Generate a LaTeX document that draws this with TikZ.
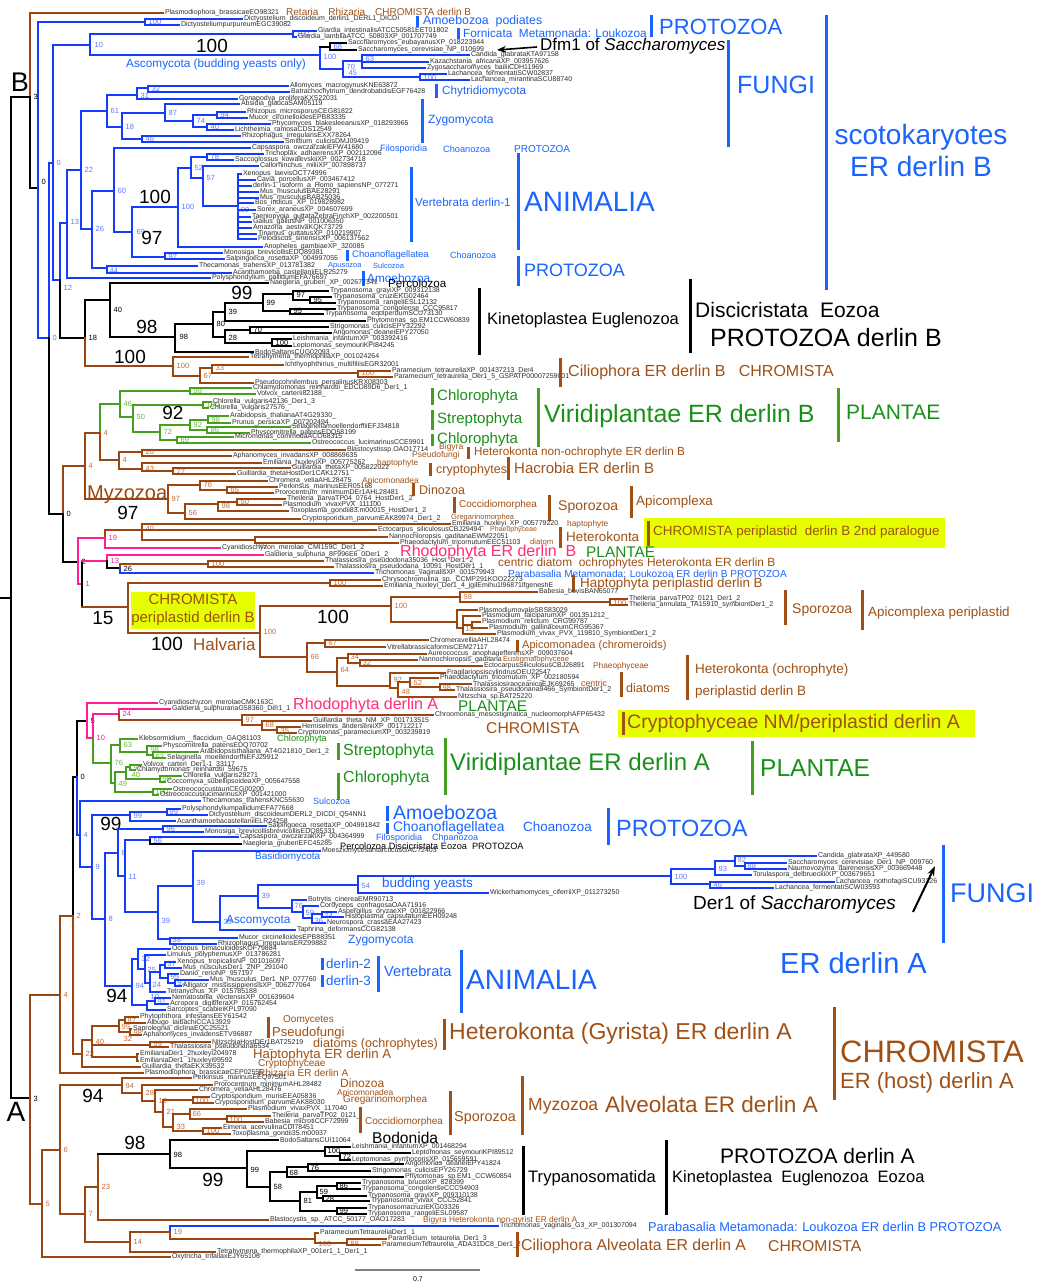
\documentclass[tikz,border=0pt]{standalone}
\usepackage{fontspec}
\setmainfont{Liberation Sans}
\usetikzlibrary{arrows.meta}
\definecolor{tb}{RGB}{20,60,255}
\definecolor{tbl}{RGB}{95,120,255}
\definecolor{lb}{RGB}{25,100,255}
\definecolor{tr}{RGB}{155,70,15}
\definecolor{trl}{RGB}{190,110,65}
\definecolor{lr}{RGB}{160,80,20}
\definecolor{tg}{RGB}{70,160,30}
\definecolor{tgl}{RGB}{105,185,65}
\definecolor{lg}{RGB}{25,145,25}
\definecolor{tp}{RGB}{255,30,150}
\definecolor{lp}{RGB}{255,45,120}
\definecolor{lfg}{RGB}{45,45,45}
\definecolor{yb}{RGB}{230,255,0}
\newcommand\Nd[6]{\draw[#1] (#2,-#4) -- (#3,-#4); \draw[#1] (#3,-#5) -- (#3,-#6);}
\newcommand\Lf[5]{\draw[#1] (#2,-#4) -- (#3,-#4) node[lft]{#5};}
\newcommand\Bs[4]{\node[bsn,text=#1] at (#2,-#3) {#4};}
\newcommand\Tx[5]{\node[anchor=west,inner sep=0pt,text=#1,font=\fontsize{#2}{#2}\selectfont] at (#3,-#4) {#5};}
\newcommand\Br[4]{\draw[draw=#1,line width=3pt] (#2,-#3) -- (#2,-#4);}
\newcommand\Bg[3]{\node[inner sep=0pt,font=\fontsize{19}{19}\selectfont] at (#1,-#2) {#3};}
\begin{document}
\begin{tikzpicture}[x=1pt,y=1pt,
 lB/.style={draw=tb,line width=2pt,line cap=rect},
 lR/.style={draw=tr,line width=2pt,line cap=rect},
 lG/.style={draw=tg,line width=2pt,line cap=rect},
 lP/.style={draw=tp,line width=2pt,line cap=rect},
 lK/.style={draw=black,line width=2pt,line cap=rect},
 lft/.style={anchor=west,inner sep=1pt,font=\fontsize{7}{8}\selectfont,text=lfg},
 bsn/.style={anchor=west,inner sep=0.5pt,font=\fontsize{7.5}{8}\selectfont}]
\fill[white] (0,0) rectangle (1037,-1283);
\useasboundingbox (0,0) rectangle (1037,-1283);
% ---------------- root -----------------
\draw[lK] (0,-598) -- (11,-598);
\draw[lK] (11,-97) -- (11,-1098);
\node[inner sep=0pt,font=\fontsize{27}{27}\selectfont] at (20,-82) {B};
\node[inner sep=0pt,font=\fontsize{28}{28}\selectfont] at (16,-1112) {A};
% ================= B half =================
\draw[lK] (11,-97) -- (30,-97); \draw[lR] (30,-13) -- (30,-97); \draw[lK] (30,-97) -- (30,-188);
\Bs{black}{33}{97}{3}
\Lf{lR}{30}{163}{13}{Plasmodiophora\_brassicaeEO98321}
\Tx{lr}{10}{286}{12}{Retaria\quad Rhizaria\quad CHROMISTA derlin B}
\draw[lK] (30,-188) -- (38,-188); \draw[lB] (38,-22) -- (38,-338); \Bs{black}{41}{182}{0}
\Nd{lB}{38}{145}{22}{19}{25} \Bs{tbl}{148}{22}{100}
\Lf{lB}{145}{242}{19}{Dictyostelium\_discoideum\_derlin1\_DERL1\_DICDI}
\Lf{lB}{145}{179}{25}{DictyosteliumpurpureumEGC39082}
\Br{lb}{417}{16}{27} \Tx{lb}{12.3}{423}{21}{Amoebozoa\ \ podiates}
\draw[lB] (38,-338) -- (49,-338); \draw[lB] (49,-163) -- (49,-338); \draw[lK] (49,-338) -- (49,-514); \Bs{tbl}{52}{338}{0}
\Nd{lB}{49}{53}{163}{45}{280} \Bs{tbl}{56}{163}{0}
\Nd{lB}{53}{90}{45}{34}{55} \Bs{tbl}{94}{45}{10}
\Nd{lB}{90}{293}{34}{31}{37} \Bs{tbl}{296}{34}{100}
\Lf{lB}{293}{316}{31}{Giardia\_intestinalisATCC50581EET01802}
\Lf{lB}{293}{296}{37}{Giardia\_lambliaATCC\_50803XP\_001707749}
\Br{lb}{458}{28}{39} \Tx{lb}{11.8}{463}{33}{Fornicata\ \ Metamonada: Loukozoa}
% budding yeasts B
\Nd{lB}{90}{320}{55}{47}{69} \Bs{tbl}{323}{57}{100}
\Bg{212}{46}{100}
\Tx{lb}{11.8}{126}{64}{Ascomycota (budding yeasts only)}
\Nd{lK}{320}{330}{47}{43}{50} \Bs{tbl}{333}{47}{68}
\Lf{lK}{330}{346}{43}{Saccharomyces\_eubayanusXP\_018223944}
\Lf{lK}{330}{356}{50}{Saccharomyces\_cerevisiae\_NP\_010699}
\Nd{lB}{320}{343}{69}{61}{77} \Bs{tbl}{346}{67}{70}
\Nd{lB}{343}{362}{61}{55}{68} \Bs{tbl}{365}{59}{63}
\Lf{lB}{362}{469}{55}{Candida\_glabrataKTA97158}
\Lf{lB}{362}{428}{62}{Kazachstania\_africanaXP\_003957626}
\Lf{lB}{362}{425}{68}{Zygosaccharomyces\_bailiiCDH11969}
\Nd{lB}{343}{420}{77}{74}{80} \Bs{tbl}{348}{73}{45} \Bs{tbl}{423}{78}{100}
\Lf{lB}{420}{446}{74}{Lachancea\_fermentatiSCW02837}
\Lf{lB}{420}{469}{80}{Lachancea\_mirantinaSCU88740}
\draw[-{Stealth[length=9pt,width=7pt]},line width=1.6pt] (537,-47) -- (497,-50);
\Tx{black}{17}{540}{46}{Dfm1 of \textit{Saccharomyces}}
\Br{lb}{651}{15}{37} \Tx{lb}{22}{659}{27}{PROTOZOA}
\Br{lb}{728}{40}{147} \Tx{lb}{25}{737}{85}{FUNGI}
\Br{lb}{826}{15}{290}
\node[text=lb,inner sep=0pt,font=\fontsize{28}{32}\selectfont,align=center] at (921,-150) {scotokaryotes\\ER derlin B};
% fungi B
\Nd{lB}{67}{81}{170}{111}{229} \Bs{tbl}{84}{170}{22}
\Nd{lB}{81}{107}{111}{95}{127} \Bs{tbl}{110}{111}{61}
\Nd{lB}{107}{137}{95}{88}{99} \Bs{tbl}{140}{96}{31}
\Nd{lB}{137}{148}{88}{86}{92} \Bs{tbl}{151}{89}{32}
\Lf{lB}{148}{288}{86}{Allomyces\_macrogynusKNE63872}
\Lf{lB}{148}{289}{92}{Batrachochytrium\_dendrobatidisEGF76428}
\Lf{lB}{137}{237}{99}{Gonapodya\_proliferaKXS22031}
\Nd{lB}{107}{122}{127}{113}{139} \Bs{tbl}{125}{127}{18}
\Nd{lB}{122}{165}{113}{104}{121} \Bs{tbl}{168}{113}{87}
\Lf{lB}{165}{239}{104}{Absidia\_glaucaSAM05119}
\Nd{lB}{165}{193}{121}{115}{127} \Bs{tbl}{196}{121}{74}
\Nd{lB}{193}{217}{115}{112}{118} \Bs{tbl}{220}{115}{94}
\Lf{lB}{217}{245}{112}{Rhizopus\_microsporusCEG81822}
\Lf{lB}{217}{247}{118}{Mucor\_circinelloidesEPB83335}
\Nd{lB}{193}{207}{127}{124}{130} \Bs{tbl}{210}{127}{40}
\Lf{lB}{207}{270}{124}{Phycomyces\_blakesleeanusXP\_018293965}
\Lf{lB}{207}{233}{130}{Lichtheimia\_ramosaCDS12549}
\Nd{lB}{122}{142}{139}{136}{142} \Bs{tbl}{145}{139}{46}
\Lf{lB}{142}{240}{136}{Rhizophagus\_irregularisEXX78264}
\Lf{lB}{142}{283}{142}{Smittium\_culicisDMJ09419}
\Br{lb}{436}{84}{98} \Tx{lb}{11.7}{442}{91}{Chytridiomycota}
\Br{lb}{422}{99}{143} \Tx{lb}{12}{428}{121}{Zygomycota}
% spine to animals
\Nd{lB}{53}{60}{280}{223}{280} \draw[lK] (60,-280) -- (60,-338); \Bs{tbl}{63}{288}{12}
\Nd{lB}{60}{67}{223}{170}{278} \Bs{tbl}{70}{222}{13}
\Lf{lB}{67}{210}{278}{Polysphondylium\_pallidumEFA76697}
\Nd{lB}{81}{92}{229}{191}{268} \Bs{tbl}{95}{229}{26}
\Nd{lB}{92}{114}{191}{148}{232} \Bs{tbl}{117}{191}{60}
\Lf{lB}{114}{250}{148}{Capsaspora\_owczarzakiEFW41680}
\Tx{lb}{9.2}{380}{149}{Filosporidia} \Tx{lb}{9.2}{443}{149}{Choanozoa} \Tx{lb}{10}{514}{149}{PROTOZOA}
\Nd{lB}{114}{132}{232}{207}{257} \Bs{tbl}{136}{232}{69}
\Nd{lB}{132}{178}{207}{168}{247} \Bs{tbl}{181}{207}{100} \Bg{155}{197}{100}
\Nd{lB}{178}{191}{168}{157}{178} \Bs{tbl}{194}{168}{52}
\Nd{lB}{191}{207}{157}{154}{160} \Bs{tbl}{210}{157}{78}
\Lf{lB}{207}{263}{154}{Trichoplax\_adhaerensXP\_002112096}
\Lf{lB}{207}{233}{160}{Saccoglossus\_kowalevskiiXP\_002734718}
\Nd{lB}{191}{203}{178}{166}{206} \Bs{tbl}{206}{178}{57}
\Lf{lB}{203}{258}{166}{Callorhinchus\_miliiXP\_007898737}
\Nd{lB}{203}{238}{206}{174}{239} \Bs{tbl}{236}{210}{100}
\Lf{lB}{238}{241}{174}{Xenopus\_laevisOCT74996}
\Lf{lB}{238}{255}{180}{Cavia\_porcellusXP\_003467412}
\Lf{lB}{238}{251}{186}{derlin-1\_isoform\_a\_Homo\_sapiensNP\_077271}
\Lf{lB}{238}{258}{192}{Mus\_musculusBAE28291}
\Lf{lB}{238}{258}{198}{Mus\_musculusBAB25036}
\Lf{lB}{238}{253}{203}{Bos\_indicus\_XP\_019828982}
\Lf{lB}{238}{255}{210}{Sorex\_araneusXP\_004607699}
\Lf{lB}{238}{250}{217}{Taeniopygia\_guttataZebraFinchXP\_002200501}
\Lf{lB}{238}{251}{222}{Gallus\_gallusNP\_001006350}
\Lf{lB}{238}{251}{228}{Amazona\_aestivaKQK73729}
\Lf{lB}{238}{256}{234}{Tinamus\_guttatusXP\_010219907}
\Lf{lB}{238}{256}{239}{Pelodiscus\_sinensisXP\_006137562}
\Lf{lB}{178}{262}{247}{Anopheles\_gambiaeXP\_320085}
\Br{lb}{411}{167}{242} \Tx{lb}{11.6}{415}{202}{Vertebrata derlin-1}
\Br{lb}{518}{153}{250} \Tx{lb}{28}{524}{202}{ANIMALIA}
\Nd{lB}{132}{165}{257}{253}{259} \Bs{tbl}{168}{257}{97} \Bg{152}{238}{97}
\Lf{lB}{165}{222}{253}{Monosiga\_brevicollisEDQ89381}
\Lf{lB}{165}{224}{259}{Salpingoeca\_rosettaXP\_004997055}
\Nd{lB}{92}{107}{268}{266}{273} \Bs{tbl}{109}{271}{44}
\Lf{lB}{107}{197}{266}{Thecamonas\_trahensXP\_013781382}
\Lf{lB}{107}{231}{273}{Acanthamoeba\_castellaniiELR25279}
\Br{lb}{347}{250}{261} \Tx{lb}{9.5}{352}{255}{Choanoflagellatea} \Tx{lb}{9}{450}{255}{Choanozoa}
\Tx{lb}{7.5}{328}{266}{Apusozoa} \Tx{lb}{7.5}{373}{266}{Sulcozoa}
\Br{lb}{363}{271}{286} \Tx{lb}{11.8}{367}{278}{Amoebozoa}
\Br{lb}{518}{256}{286} \Tx{lb}{18}{524}{270}{PROTOZOA}
% Discicristata B
\draw[lK] (60,-338) -- (85,-338); \draw[lK] (85,-300) -- (85,-338); \draw[lR] (85,-338) -- (85,-366); \Bs{black}{88}{338}{18}
\Nd{lK}{85}{110}{300}{283}{337} \Bs{black}{113}{310}{40}
\Lf{lK}{110}{268}{283}{Naegleria\_gruberi\_XP\_002677341} \Tx{black}{11.6}{388}{283}{Percolozoa}
\Nd{lK}{110}{175}{337}{324}{352} \Bs{black}{179}{337}{98} \Bg{147}{327}{98}
\Lf{lK}{175}{253}{352}{BodoSaltansCUG02093}
\Nd{lK}{175}{213}{324}{312}{337} \Bs{black}{216}{324}{80}
\Nd{lK}{213}{225}{312}{303}{321} \Bs{black}{228}{312}{39}
\Nd{lK}{225}{263}{303}{294}{311} \Bs{black}{266}{303}{99} \Bg{242}{293}{99}
\Nd{lK}{263}{293}{294}{291}{300} \Bs{black}{296}{295}{97}
\Lf{lK}{293}{328}{291}{Trypanosoma\_grayiXP\_009312138}
\Nd{lK}{293}{310}{300}{297}{303} \Bs{black}{313}{300}{95}
\Lf{lK}{310}{331}{297}{Trypanosoma\_cruziEKG02464}
\Lf{lK}{310}{335}{303}{Trypanosoma\_rangeliESL12132}
\Nd{lK}{263}{290}{311}{309}{314} \Bs{black}{293}{311}{95}
\Lf{lK}{290}{335}{309}{Trypanosoma\_congolense\_CCC95817}
\Lf{lK}{290}{323}{314}{Trypanosoma\_equiperdumSCU73130}
\Lf{lK}{225}{365}{321}{Phytomonas\_sp.EM1CCW60839}
\Nd{lK}{213}{225}{337}{330}{343} \Bs{black}{228}{338}{28}
\Nd{lK}{225}{250}{330}{327}{333} \Bs{black}{253}{330}{70}
\Lf{lK}{250}{328}{327}{Strigomonas\_culicisEPY32292}
\Lf{lK}{250}{331}{333}{Angomonas\_deaneiEPY27050}
\Nd{lK}{225}{272}{343}{339}{346} \Bs{black}{275}{343}{100}
\Lf{lK}{272}{291}{339}{Leishmania\_infantumXP\_003392416}
\Lf{lK}{272}{291}{346}{Leptomonas\_seymouriKPI84245}
\Br{black}{479}{288}{355} \Tx{black}{16.5}{487}{320}{Kinetoplastea Euglenozoa}
\Br{black}{690}{279}{353} \Tx{black}{21}{695}{310}{Discicristata\ \ Eozoa} \Tx{black}{25}{710}{338}{PROTOZOA derlin B}
% Ciliophora B
\Nd{lR}{85}{173}{366}{357}{376} \Bs{trl}{176}{366}{100} \Bg{130}{357}{100}
\Lf{lR}{173}{248}{357}{Tetrahymena\_thermophilaXP\_001024264}
\Nd{lR}{173}{200}{376}{368}{383} \Bs{trl}{203}{376}{67}
\Nd{lR}{200}{212}{368}{365}{373} \Bs{trl}{215}{368}{33}
\Lf{lR}{212}{283}{365}{Ichthyophthirius\_multifiliisEGR32001}
\Nd{lR}{212}{358}{373}{371}{376} \Bs{trl}{361}{373}{100}
\Lf{lR}{358}{390}{371}{Paramecium\_tetraureliaXP\_001437213\_Der4}
\Lf{lR}{358}{392}{377}{Paramecium\_tetraurelia\_Der1\_5\_GSPATP00007259001}
\Lf{lR}{200}{253}{383}{Pseudocohnilembus\_persalinusKRX08303}
\Br{lr}{560}{358}{387} \Tx{lr}{16}{568}{372}{Ciliophora ER derlin B\ \ \ CHROMISTA}
% S node
\draw[lK] (49,-514) -- (63,-514); \draw[lR] (63,-466) -- (63,-514); \draw[lK] (63,-514) -- (63,-562); \Bs{black}{66}{514}{0}
\Nd{lR}{63}{85}{466}{433}{499} \Bs{trl}{88}{466}{4}
\draw[lR] (85,-433) -- (100,-433); \draw[lG] (100,-404) -- (100,-433); \draw[lR] (100,-433) -- (100,-460); \Bs{trl}{103}{433}{4}
% Viridiplantae B
\Nd{lG}{100}{120}{404}{391}{417} \Bs{tgl}{123}{404}{46}
\Nd{lG}{120}{190}{391}{388}{394} \Bs{tgl}{193}{391}{98}
\Lf{lG}{190}{251}{388}{Chlamydomonas\_reinhardtii\_EDCD89D6\_Der1\_1}
\Lf{lG}{190}{255}{394}{Volvox\_carterii82188\_}
\Nd{lG}{120}{133}{417}{405}{432} \Bs{tgl}{136}{417}{50}
\Nd{lG}{133}{203}{405}{402}{408} \Bs{tgl}{206}{405}{100}
\Lf{lG}{203}{211}{402}{Chlorella\_vulgaris42136\_Der1\_3}
\Lf{lG}{203}{208}{408}{Chlorella\_vulgaris27576\_}
\Nd{lG}{133}{160}{432}{425}{440} \Bs{tgl}{163}{432}{72}
\Nd{lG}{160}{190}{425}{420}{430} \Bs{tgl}{193}{425}{92} \Bg{173}{413}{92}
\Nd{lG}{190}{208}{420}{416}{423} \Bs{tgl}{211}{420}{98}
\Lf{lG}{208}{228}{416}{Arabidopsis\_thalianaAT4G29330\_}
\Lf{lG}{208}{230}{423}{Prunus\_persicaXP\_007202494}
\Nd{lG}{190}{207}{430}{427}{433} \Bs{tgl}{210}{430}{86}
\Lf{lG}{207}{290}{427}{SelaginellamoellendorffiiEFJ34818}
\Lf{lG}{207}{249}{433}{Physcomitrella\_patensEDQ58199}
\Nd{lG}{160}{177}{440}{437}{443} \Bs{tgl}{180}{440}{69}
\Lf{lG}{177}{233}{437}{Micromonas\_commodaACO68315}
\Lf{lG}{177}{310}{443}{Ostreococcus\_lucimarinusCCE9901}
\Br{tg}{432}{388}{405} \Tx{lg}{15}{437}{397}{Chlorophyta}
\Br{tg}{432}{410}{430} \Tx{lg}{15}{437}{420}{Streptophyta}
\Br{tg}{432}{434}{446} \Tx{lg}{15}{437}{440}{Chlorophyta}
\Br{tg}{538}{388}{447} \Tx{lg}{25}{544}{416}{Viridiplantae ER derlin B}
\Br{tg}{838}{388}{442} \Tx{lg}{21}{846}{412}{PLANTAE}
% Hacrobia
\Nd{lR}{100}{119}{460}{452}{469} \Bs{trl}{122}{460}{4}
\Nd{lR}{119}{142}{452}{450}{456} \Bs{trl}{145}{452}{20}
\Lf{lR}{142}{345}{450}{Blastocystissp.OAO17714}
\Lf{lR}{142}{231}{456}{Aphanomyces\_invadansXP\_008869635}
\Nd{lR}{119}{142}{469}{463}{471} \Bs{trl}{145}{469}{43}
\Lf{lR}{142}{261}{463}{Emiliania\_huxleyiXP\_005775262}
\Nd{lR}{142}{173}{471}{468}{474} \Bs{trl}{176}{472}{77}
\Lf{lR}{173}{290}{468}{Guillardia\_thetaXP\_005822022}
\Lf{lR}{173}{235}{474}{Guillardia\_thetaHostDer1CAK12751}
\Tx{lr}{8.5}{439}{447}{Bigyra} \Tx{lr}{8.5}{412}{455}{Pseudofungi}
\Br{lr}{468}{447}{459} \Tx{lr}{11.7}{474}{452}{Heterokonta non-ochrophyte ER derlin B}
\Tx{lr}{8.3}{377}{463}{haptophyte}
\Br{lr}{430}{463}{476} \Tx{lr}{12.5}{436}{470}{cryptophytes}
\Br{lr}{508}{457}{480} \Tx{lr}{15}{514}{468}{Hacrobia ER derlin B}
% Myzozoa B
\draw[lR] (85,-499) -- (168,-499);
\node[inner sep=0pt,text=tr,font=\fontsize{20}{20}\selectfont,anchor=west] at (87,-495) {Myzozoa};
\Bg{128}{513}{97}
\draw[lR] (168,-485) -- (168,-513); \Bs{trl}{171}{499}{97}
\Nd{lR}{168}{200}{485}{481}{490} \Bs{trl}{203}{485}{76}
\Lf{lR}{200}{267}{481}{Chromera\_veliaAHL28475}
\Nd{lR}{200}{227}{490}{487}{493} \Bs{trl}{230}{490}{65}
\Lf{lR}{227}{277}{487}{Perkinsus\_marinusEER05168}
\Lf{lR}{227}{273}{493}{Prorocentrum\_minimumDEr1AHL28481}
\Nd{lR}{168}{185}{513}{504}{519} \Bs{trl}{188}{513}{56}
\Nd{lR}{185}{218}{504}{502}{511} \Bs{trl}{221}{506}{98}
\Nd{lR}{218}{237}{502}{499}{505} \Bs{trl}{240}{502}{50}
\Lf{lR}{237}{285}{499}{Theileria\_parvaTP04\_0764\_HostDer1\_2}
\Lf{lR}{237}{281}{505}{Plasmodium\_vivaxPVX\_111100\_}
\Lf{lR}{218}{288}{511}{Toxoplasma\_gondii83.m00015\_HostDer1\_2}
\Lf{lR}{185}{300}{519}{Cryptosporidium\_parvumEAK89974\_Der1\_2}
\Tx{lr}{8.5}{362}{481}{Apicomonadea}
\Br{lr}{413}{483}{496} \Tx{lr}{12.5}{419}{490}{Dinozoa}
\Br{lr}{454}{497}{513} \Tx{lr}{10}{459}{505}{Coccidiomorphea}
\Tx{lr}{7.5}{451}{518}{Gregarinomorphea}
\Br{lr}{549}{495}{521} \Tx{lr}{14}{558}{507}{Sporozoa}
\Br{lr}{631}{486}{518} \Tx{lr}{13.4}{636}{502}{Apicomplexa}
% Heterokonta / Rhodophyta B
\draw[lK] (63,-562) -- (78,-562); \draw[lP] (78,-538) -- (78,-584); \Bs{black}{81}{562}{2}
\draw[lP] (78,-538) -- (105,-538); \draw[lR] (105,-530) -- (105,-538); \draw[lP] (105,-538) -- (105,-548); \Bs{tp}{108}{538}{19}
\Nd{lR}{105}{142}{530}{524}{540} \Bs{trl}{145}{529}{40}
\Lf{lR}{142}{450}{524}{Emiliania\_huxleyi\_XP\_005779220}
\Lf{lR}{142}{376}{530}{Ectocarpus\_siliculosusCBJ29494}
\Nd{lR}{142}{255}{540}{537}{543} \Bs{trl}{258}{546}{99}
\Lf{lR}{255}{387}{537}{Nannochloropsis\_gaditanaEWM22051}
\Lf{lR}{255}{398}{543}{Phaeodactylum\_tricornutumEEC51103}
\Lf{lP}{105}{220}{548}{Cyanidioschyzon\_merolae\_CMI159C\_Der1\_2}
\Tx{lr}{8.3}{567}{524}{haptophyte} \Tx{lr}{7}{490}{530}{Phaeophyceae} \Tx{lr}{7.7}{530}{542}{diatom}
\Br{lr}{560}{527}{548} \Tx{lr}{13.4}{566}{537}{Heterokonta}
\node[fill=yb,inner sep=0pt,minimum width=301pt,minimum height=30pt,anchor=west] at (644,-533) {};
\Br{lr}{648}{521}{546} \Tx{lr}{13.4}{653}{532}{CHROMISTA periplastid\ \ derlin B 2nd paralogue}
\Tx{lp}{16}{400}{552}{Rhodophyta ER derlin\ \ B} \Tx{lg}{15.4}{586}{552}{PLANTAE}
\draw[lP] (78,-584) -- (82,-584); \draw[lK] (82,-561) -- (82,-607); \Bs{tp}{85}{584}{1}
\draw[lP] (82,-561) -- (107,-561); \draw[lP] (107,-555) -- (107,-561); \draw[lK] (107,-561) -- (107,-568); \Bs{tp}{110}{561}{13}
\Lf{lP}{107}{263}{555}{Galdieria\_sulphuria\_8F996E6\_0Der1\_2}
\draw[lK] (107,-568) -- (120,-568); \draw[lR] (120,-564) -- (120,-568); \draw[lB] (120,-568) -- (120,-573); \Bs{black}{123}{569}{26}
\Nd{lR}{120}{208}{564}{561}{567} \Bs{trl}{211}{564}{100}
\Lf{lR}{208}{323}{561}{Thalassiosira\_pseudodona35036\_Host\_Der1\_2}
\Lf{lR}{208}{333}{567}{Thalassiosira\_pseudodana\_10091\_HostDer1\_1}
\Lf{lB}{120}{373}{573}{Trichomonas\_vaginalisXP\_001579943}
\Tx{lr}{11.9}{498}{563}{centric diatom\ \ ochrophytes Heterokonta ER derlin B}
\Tx{lb}{10.1}{508}{574}{Parabasalia Metamonada: Loukozoa ER derlin B PROTOZOA}
% periplastid B
\draw[lR] (82,-607) -- (128,-607); \draw[lR] (128,-583) -- (128,-633); \Bg{103}{618}{15}
\node[fill=yb,inner sep=0pt,minimum width=120pt,minimum height=37pt,align=center,text=lr,font=\fontsize{15}{18}\selectfont] at (193,-610) {CHROMISTA\\periplastid derlin B};
\Nd{lR}{128}{330}{583}{580}{586} \Bs{trl}{333}{583}{100}
\Lf{lR}{330}{380}{580}{Chrysochromulina\_sp.\_CCMP291KOO22273}
\Lf{lR}{330}{382}{586}{Emiliania\_huxleyi\_Der1\_4\_jgilEmihu1l96871lfgeneshE}
\Br{lr}{573}{575}{592} \Tx{lr}{13.4}{580}{584}{Haptophyta periplastid derlin B}
\Nd{lR}{128}{260}{633}{606}{657} \Bs{trl}{263}{632}{100}
\Bg{167}{644}{100} \Tx{lr}{17}{193}{644}{Halvaria} \Bg{333}{617}{100}
\Nd{lR}{260}{391}{606}{597}{622} \Bs{trl}{394}{606}{100}
\Nd{lR}{391}{460}{597}{592}{602} \Bs{trl}{463}{597}{98}
\Lf{lR}{460}{537}{592}{Babesia\_bovisBAN65077}
\Nd{lR}{460}{610}{602}{599}{605} \Bs{trl}{613}{603}{100}
\Lf{lR}{610}{627}{599}{Theileria\_parvaTP02\_0121\_Der1\_2}
\Lf{lR}{610}{627}{605}{Theileria\_annulata\_TA15910\_symbiontDer1\_2}
\Nd{lR}{391}{457}{622}{610}{628}
\Lf{lR}{457}{477}{610}{PlasmodiumovaleSBS83029}
\Nd{lR}{457}{463}{628}{616}{634} \Bs{trl}{465}{629}{15}
\Lf{lR}{463}{480}{616}{Plasmodium\_falciparumXP\_001351212\_}
\Nd{lR}{463}{472}{625}{622}{628}
\Lf{lR}{472}{480}{622}{Plasmodium\_relictum\_CRG99787}
\Lf{lR}{472}{487}{628}{Plasmodium\_gallinaceumCRG95367}
\Lf{lR}{463}{495}{634}{Plasmodium\_vivax\_PVX\_119810\_SymbiontDer1\_2}
\Br{lr}{785}{590}{625} \Tx{lr}{14}{792}{610}{Sporozoa}
\Br{lr}{862}{590}{630} \Tx{lr}{13.4}{868}{613}{Apicomplexa periplastid}
\Nd{lR}{260}{307}{657}{643}{672} \Bs{trl}{310}{657}{66}
\Nd{lR}{307}{325}{643}{640}{647} \Bs{trl}{328}{643}{67}
\Lf{lR}{325}{428}{640}{ChromeravelliaAHL28474}
\Lf{lR}{325}{385}{647}{VitrellabrassicaformisCEM27117}
\Nd{lR}{307}{337}{672}{658}{686} \Bs{trl}{340}{670}{64}
\Nd{lR}{337}{348}{658}{654}{663} \Bs{trl}{350}{657}{34}
\Lf{lR}{348}{426}{654}{Aureococcus\_anophagefferensXP\_009037604}
\Nd{lR}{348}{360}{663}{660}{666} \Bs{trl}{362}{663}{32}
\Lf{lR}{360}{417}{660}{Nannochloropsis\_gaditana}
\Lf{lR}{360}{482}{666}{EctocarpusSiliculosusCBJ26891}
\Nd{lR}{337}{390}{686}{673}{688} \Bs{trl}{393}{680}{92}
\Lf{lR}{390}{445}{673}{FragilariopsiscylindrusOEU22547}
\Nd{lR}{390}{398}{688}{682}{697} \Bs{trl}{401}{692}{48}
\Nd{lR}{398}{410}{682}{678}{687} \Bs{trl}{413}{683}{52}
\Lf{lR}{410}{438}{678}{Phaeodactylum\_tricornutum\_XP\_002180594}
\Nd{lR}{410}{440}{687}{684}{690} \Bs{trl}{442}{688}{98}
\Lf{lR}{440}{471}{684}{ThalassiosiraoceanicaEJK69265}
\Lf{lR}{440}{454}{690}{Thalassiosira\_pseudonana9466\_SymbiontDer1\_2}
\Lf{lR}{398}{456}{697}{Nitzschia\_sp.BAT25220}
\Br{lr}{517}{640}{652} \Tx{lr}{11}{522}{646}{Apicomonadea (chromeroids)}
\Tx{lr}{7.5}{503}{660}{Eustigmatophyceae} \Tx{lr}{8.3}{593}{666}{Phaeophyceae} \Tx{lr}{8.8}{581}{683}{centric}
\Br{lr}{621}{672}{697} \Tx{lr}{12.5}{626}{688}{diatoms}
\Br{lr}{687}{655}{700}
\node[anchor=west,inner sep=0pt,text=lr,font=\fontsize{13.5}{22}\selectfont,align=left] at (695,-681) {Heterokonta (ochrophyte)\\periplastid derlin B};
% ================= A half =================
\draw[lK] (11,-1098) -- (30,-1098); \draw[lR] (30,-995) -- (30,-1204); \Bs{black}{33}{1099}{3}
\Nd{lR}{30}{60}{995}{916}{1073} \Bs{trl}{63}{995}{4}
\Lf{lR}{60}{143}{1073}{Plasmodiophora\_brassicaeCEP02555}
\draw[lR] (60,-916) -- (73,-916); \draw[lK] (73,-777) -- (73,-916); \draw[lR] (73,-916) -- (73,-1054); \Bs{trl}{76}{916}{2}
\draw[lK] (73,-777) -- (77,-777); \draw[lK] (77,-721) -- (77,-777); \draw[lB] (77,-777) -- (77,-835); \Bs{black}{80}{777}{0}
\draw[lK] (77,-721) -- (87,-721); \draw[lP] (87,-703) -- (87,-738); \Bs{black}{90}{721}{5}
\Lf{lP}{87}{157}{703}{Cyanidioschyzon\_merolaeCMK163C\_}
\draw[lP] (87,-738) -- (93,-738); \draw[lP] (93,-714) -- (93,-738); \draw[lG] (93,-738) -- (93,-763); \Bs{tp}{96}{738}{10}
\Nd{lP}{93}{119}{714}{709}{714} \draw[lR] (119,-714) -- (119,-720); \Bs{tp}{122}{714}{24}
\Lf{lP}{119}{170}{709}{Galdieria\_sulphurariaG58360\_Der1\_1}
\Nd{lR}{119}{242}{720}{715}{725} \Bs{trl}{245}{720}{97}
\Lf{lR}{242}{433}{715}{Chroomonas\_mesostigmatica\_nucleomorphAFP65432}
\Nd{lR}{242}{262}{725}{721}{730} \Bs{trl}{265}{725}{68}
\Lf{lR}{262}{311}{721}{Guillardia\_theta\_NM\_XP\_001713515}
\Nd{lR}{262}{277}{730}{727}{733} \Bs{trl}{280}{731}{35}
\Lf{lR}{277}{300}{727}{Hemiselmis\_anderseniiXP\_001712217}
\Lf{lR}{277}{296}{733}{Cryptomonas\_parameciumXP\_003239819}
\Tx{lp}{16}{293}{705}{Rhodophyta derlin A} \Tx{lg}{15.4}{458}{706}{PLANTAE} \Tx{lr}{15.7}{486}{728}{CHROMISTA}
\node[fill=yb,inner sep=0pt,minimum width=357pt,minimum height=27pt,anchor=west] at (618,-723) {};
\Br{lr}{623}{712}{735} \Tx{lr}{19.5}{627}{723}{Cryptophyceae NM/periplastid derlin A}
% Viridiplantae A
\Nd{lG}{93}{111}{763}{745}{783} \Bs{tgl}{114}{763}{76}
\Nd{lG}{111}{120}{745}{739}{752} \Bs{tgl}{123}{745}{63}
\Lf{lG}{120}{137}{739}{Klebsormidium\_\_flaccidum\_GAQ81103}
\Nd{lG}{120}{147}{752}{746}{755} \Bs{tgl}{150}{750}{98}
\Lf{lG}{147}{161}{746}{Physcomitrella\_patensEDQ70702}
\Nd{lG}{147}{153}{755}{752}{758} \Bs{tgl}{155}{757}{62}
\Lf{lG}{153}{198}{752}{Arabidopsisthaliana\_AT4G21810\_Der1\_2}
\Lf{lG}{153}{165}{758}{Selaginella\_moellendorffiiEFJ29912}
\Nd{lG}{111}{115}{783}{772}{792} \Bs{tgl}{118}{784}{49}
\Nd{lG}{115}{126}{772}{767}{779} \Bs{tgl}{131}{775}{40}
\Nd{lG}{126}{130}{767}{765}{770} \Bs{tgl}{133}{768}{97}
\Lf{lG}{130}{141}{765}{Volvox\_carteri\_Der1-1\_33117}
\Lf{lG}{130}{135}{770}{Chlamydomonas\_reinhardtii\_59675}
\Nd{lG}{126}{160}{779}{776}{782} \Bs{tgl}{162}{779}{99}
\Lf{lG}{160}{181}{776}{Chlorella\_vulgaris29271}
\Lf{lG}{160}{165}{782}{Coccomyxa\_subellipsoideaXP\_005647558}
\Nd{lG}{115}{153}{792}{789}{795} \Bs{tgl}{155}{792}{100}
\Lf{lG}{153}{171}{789}{OstreococcustauriCEG00200}
\Lf{lG}{153}{158}{795}{OstreococcuslucimarinusXP\_001421000}
\Tx{lg}{9.2}{277}{739}{Chlorophyta}
\Br{tg}{338}{743}{760} \Tx{lg}{16}{343}{751}{Streptophyta}
\Br{tg}{338}{773}{800} \Tx{lg}{16}{343}{778}{Chlorophyta}
\Br{tg}{445}{738}{795} \Tx{lg}{24}{450}{764}{Viridiplantae ER derlin A}
\Br{tg}{752}{741}{795} \Tx{lg}{24.5}{760}{768}{PLANTAE}
% blue A
\draw[lB] (77,-835) -- (80,-835); \draw[lB] (80,-801) -- (80,-867); \Bs{tbl}{83}{835}{4}
\Lf{lB}{80}{200}{801}{Thecamonas\_trahensKNC55630} \Tx{lb}{9}{313}{801}{Sulcozoa}
\Nd{lB}{80}{92}{867}{815}{919} \Bs{tbl}{95}{867}{9}
\Nd{lB}{92}{130}{815}{812}{821} \Bs{tbl}{133}{816}{99} \Bg{111}{824}{99}
\Nd{lB}{130}{167}{812}{809}{815} \Bs{tbl}{169}{812}{99}
\Lf{lB}{167}{180}{809}{PolysphondyliumpallidumEFA77668}
\Lf{lB}{167}{207}{815}{Dictyostelium\_discoideumDERL2\_DICDI\_Q54NN1}
\Lf{lB}{130}{175}{821}{AcanthamoebacastellaniiELR24258}
\Nd{lB}{92}{105}{919}{853}{986} \Bs{tbl}{108}{919}{8}
\Nd{lB}{105}{118}{853}{829}{876} \Bs{tbl}{121}{853}{8}
\Nd{lB}{118}{163}{829}{826}{832} \Bs{tbl}{166}{829}{96}
\Lf{lB}{163}{266}{826}{Salpingoeca\_rosettaXP\_004991842}
\Lf{lB}{163}{203}{832}{Monosiga\_brevicollisbrevicollisEDQ85331}
\Nd{lB}{118}{125}{876}{840}{912} \Bs{tbl}{128}{877}{11}
\Nd{lB}{125}{150}{840}{837}{840} \draw[lK] (150,-840) -- (150,-844); \Bs{tbl}{153}{841}{56}
\Lf{lB}{150}{238}{837}{Capsaspora\_owczarzakiXP\_004364999}
\Lf{lK}{150}{241}{844}{Naegleria\_gruberiEFC45285}
\Tx{lb}{9}{376}{838}{Filosporidia} \Tx{lb}{9}{432}{838}{Chpanozoa}
\Tx{black}{9.2}{340}{846}{Percolozoa Discicristata Eozoa\ \ PROTOZOA}
\Br{lb}{387}{806}{821} \Tx{lb}{19.5}{393}{813}{Amoebozoa}
\Br{lb}{387}{823}{834} \Tx{lb}{13.8}{393}{828}{Choanoflagellatea} \Tx{lb}{13.4}{523}{827}{Choanozoa}
\Br{lb}{608}{808}{845} \Tx{lb}{23.5}{616}{828}{PROTOZOA}
\Nd{lB}{125}{158}{912}{886}{939} \Bs{tbl}{161}{921}{39}
\Nd{lB}{158}{193}{886}{851}{922} \Bs{tbl}{196}{883}{39}
\Lf{lB}{193}{320}{851}{MoesziomycesantarcticusGAC72403}
\Tx{lb}{10}{255}{857}{Basidiomycota}
\Nd{lB}{193}{220}{922}{896}{930} \Bs{tbl}{223}{922}{39}
\Nd{lB}{220}{258}{896}{885}{908} \Bs{tbl}{261}{896}{39}
\Nd{lB}{258}{358}{885}{876}{893} \Bs{tbl}{361}{886}{54}
\Nd{lB}{358}{671}{876}{869}{884} \Bs{tbl}{674}{877}{100}
\Nd{lB}{671}{715}{869}{861}{875} \Bs{tbl}{718}{869}{93}
\Nd{lB}{715}{735}{861}{856}{866} \Bs{tbl}{737}{860}{92}
\Lf{lB}{735}{816}{856}{Candida\_glabrataXP\_449580}
\Nd{lB}{735}{745}{866}{863}{869} \Bs{tbl}{747}{866}{88}
\Lf{lB}{745}{786}{863}{Saccharomyces\_cerevisiae\_Der1\_NP\_009760}
\Lf{lB}{745}{786}{869}{Naumovozyma\_dairenensisXP\_003669448}
\Lf{lB}{715}{751}{875}{Torulaspora\_delbrueckiiXP\_003679651}
\Nd{lB}{671}{710}{884}{882}{888} \Bs{tbl}{713}{885}{46}
\Lf{lB}{710}{834}{882}{Lachancea\_nothofagiSCU93326}
\Lf{lB}{710}{773}{888}{Lachancea\_fermentatiSCW03593}
\Lf{lB}{358}{488}{893}{Wickerhamomyces\_ciferriiXP\_011273250}
\Tx{lb}{13.5}{382}{884}{budding yeasts}
\Tx{black}{19}{693}{905}{Der1 of \textit{Saccharomyces}}
\draw[-{Stealth[length=10pt,width=7pt]},line width=2pt] (913,-912) -- (935,-866);
\Br{lb}{943}{845}{943} \Tx{lb}{27}{950}{893}{FUNGI}
\Tx{lb}{29}{780}{963}{ER derlin A}
\Nd{lB}{258}{292}{908}{900}{912} \Bs{tbl}{294}{906}{76}
\Lf{lB}{292}{306}{900}{Botrytis\_cinereaEMR90713}
\Nd{lB}{292}{303}{912}{906}{918} \Bs{tbl}{305}{913}{59}
\Lf{lB}{303}{318}{906}{Cordyceps\_confragosaOAA71916}
\Nd{lB}{303}{312}{918}{914}{923} \Bs{tbl}{314}{921}{36}
\Nd{lB}{312}{322}{914}{912}{917} \Bs{tbl}{324}{916}{74}
\Lf{lB}{322}{336}{912}{Aspergillus\_oryzaeXP\_001822966}
\Lf{lB}{322}{343}{917}{Histoplasma\_capsulatumEEH09248}
\Lf{lB}{312}{325}{923}{Neurospora\_crassaEAA27423}
\Lf{lB}{220}{295}{930}{Taphrina\_deformansCCG82138}
\Tx{lb}{11.8}{226}{921}{Ascomycota}
\Nd{lB}{158}{170}{939}{938}{944} \Bs{tbl}{172}{940}{38}
\Lf{lB}{170}{237}{938}{Mucor\_circinelloidesEPB88351}
\Lf{lB}{170}{216}{944}{Rhizophagus\_irregularisERZ99882}
\Tx{lb}{12}{348}{941}{Zygomycota}
% animals A
\Nd{lB}{105}{132}{986}{959}{1005} \Bs{tbl}{135}{986}{94} \Bg{117}{996}{94}
\Nd{lB}{132}{138}{959}{949}{969} \Bs{tbl}{141}{959}{32}
\Lf{lB}{138}{170}{949}{Octopus\_bimaculoidesKOF79884}
\Nd{lB}{138}{145}{969}{955}{983} \Bs{tbl}{147}{970}{25}
\Lf{lB}{145}{165}{955}{Limulus\_polyphemusXP\_013786281}
\Nd{lB}{145}{150}{983}{972}{992} \Bs{tbl}{152}{985}{24}
\Nd{lB}{150}{160}{972}{965}{978}
\Nd{lB}{160}{165}{965}{962}{968} \Bs{tbl}{167}{964}{37}
\Lf{lB}{165}{175}{962}{Xenopus\_tropicalisNP\_001016097}
\Lf{lB}{165}{181}{968}{Mus\_nusculusDer1\_2NP\_291040}
\Nd{lB}{160}{168}{978}{974}{983} \Bs{tbl}{170}{977}{95}
\Lf{lB}{168}{178}{974}{Danio\_rerioNP\_957197}
\Nd{lB}{168}{175}{983}{980}{986} \Bs{tbl}{177}{983}{92}
\Lf{lB}{175}{208}{980}{Mus\_musculus\_Der1\_NP\_077760}
\Lf{lB}{175}{181}{986}{Alligator\_mississippiensisXP\_006277064}
\Lf{lB}{150}{165}{992}{Tetranychus\_XP\_015785188}
\Nd{lB}{132}{147}{1005}{1001}{1010} \Bs{tbl}{150}{997}{10}
\Nd{lB}{147}{155}{1001}{998}{1004} \Bs{tbl}{157}{1002}{91}
\Lf{lB}{155}{170}{998}{Nematostella\_vectensisXP\_001639604}
\Lf{lB}{155}{168}{1004}{Acropora\_digitiferaXP\_015762454}
\Lf{lB}{147}{165}{1010}{Sarcoptes\_scabieiKPL97090}
\Br{lb}{322}{958}{970} \Tx{lb}{13.4}{326}{964}{derlin-2}
\Br{lb}{322}{975}{987} \Tx{lb}{13.4}{326}{981}{derlin-3}
\Br{lb}{378}{956}{992} \Tx{lb}{14.6}{384}{971}{Vertebrata}
\Br{lb}{461}{950}{1013} \Tx{lb}{28}{466}{980}{ANIMALIA}
% brown A (Gyrista, haptophytes)
\draw[lR] (73,-1054) -- (82,-1054); \draw[lR] (82,-1040) -- (82,-1067); \Bs{trl}{85}{1054}{22}
\Nd{lR}{82}{92}{1040}{1026}{1057} \Bs{trl}{95}{1042}{40}
\Nd{lR}{92}{119}{1026}{1020}{1032} \Bs{trl}{121}{1027}{99}
\Nd{lR}{119}{125}{1020}{1017}{1023} \Bs{trl}{127}{1021}{87}
\Lf{lR}{125}{138}{1017}{Phytophthora\_infestansEEY61542}
\Lf{lR}{125}{145}{1023}{Albugo\_laibachiCCA13929}
\Nd{lR}{119}{130}{1032}{1029}{1035} \Bs{trl}{133}{1033}{98}
\Lf{lR}{130}{131}{1029}{Saprolegnia\_diclinaEQC25521}
\Lf{lR}{130}{141}{1035}{Aphanomyces\_invadensETV96887}
\Bs{trl}{123}{1039}{32}
\Nd{lR}{92}{150}{1045}{1042}{1047} \Bs{trl}{153}{1044}{99}
\Lf{lR}{150}{210}{1042}{NitzschiaHostDEr1BAT25219}
\Lf{lR}{150}{168}{1047}{Thalassiosira\_pseudonana6534\_}
\Nd{lR}{92}{137}{1057}{1054}{1061}
\Lf{lR}{137}{138}{1054}{EmilianiaDer1\_2huxleyi204978}
\Lf{lR}{137}{138}{1061}{EmilianiaDer1\_1huxleyi99592}
\Lf{lR}{82}{140}{1067}{Guillardia\_thetaEKX39532}
\Br{lr}{268}{1017}{1038} \Tx{lr}{10}{283}{1020}{Oomycetes}
\Tx{lr}{13}{272}{1033}{Pseudofungi}
\Tx{lr}{12.6}{313}{1044}{diatoms (ochrophytes)}
\Tx{lr}{13.2}{253}{1055}{Haptophyta ER derlin A}
\Tx{lr}{10}{258}{1064}{Cryptophyceae} \Tx{lr}{10}{258}{1073}{Rhizaria ER derlin A}
\Br{lr}{444}{1019}{1050} \Tx{lr}{23}{449}{1034}{Heterokonta (Gyrista) ER derlin A}
\Br{lr}{834}{1007}{1100} \Tx{lr}{31}{840}{1052}{CHROMISTA} \Tx{lr}{22}{840}{1083}{ER (host) derlin A}
% alveolates / kinetoplastids A
\Nd{lR}{30}{42}{1204}{1150}{1257} \Bs{trl}{45}{1204}{5}
\Lf{lR}{42}{170}{1257}{Oxytricha\_trifallaxEJY65106}
\Nd{lR}{42}{60}{1150}{1085}{1214} \Bs{trl}{63}{1150}{6}
\Nd{lR}{60}{122}{1085}{1078}{1093} \Bs{trl}{125}{1086}{94} \Bg{93}{1096}{94}
\Lf{lR}{122}{191}{1078}{Perkinsus\_marinusEEQ97501}
\Nd{lR}{122}{142}{1093}{1085}{1101} \Bs{trl}{145}{1093}{28}
\Lf{lR}{142}{212}{1085}{Prorocentrum\_minimumAHL28482}
\Nd{lR}{142}{155}{1101}{1090}{1112} \Bs{trl}{158}{1101}{19}
\Lf{lR}{155}{197}{1090}{Chromera\_veliaAHL28476}
\Nd{lR}{155}{163}{1112}{1100}{1127} \Bs{trl}{166}{1112}{21}
\Nd{lR}{163}{193}{1100}{1097}{1103} \Bs{trl}{195}{1101}{100}
\Lf{lR}{193}{209}{1097}{Cryptosporidium\_murisEEA05836}
\Lf{lR}{193}{213}{1103}{Cryposporidium\_parvumEAK88030}
\Nd{lR}{163}{173}{1127}{1114}{1131} \Bs{trl}{176}{1127}{33}
\Nd{lR}{173}{190}{1114}{1109}{1119} \Bs{trl}{192}{1114}{66}
\Lf{lR}{190}{246}{1109}{Plasmodium\_vivaxPVX\_117040}
\Nd{lR}{190}{227}{1119}{1116}{1122} \Bs{trl}{229}{1120}{100}
\Lf{lR}{227}{270}{1116}{Theileria\_parvaTP02\_0121\_}
\Lf{lR}{227}{263}{1122}{Babesia\_microtiCCF72999}
\Nd{lR}{173}{203}{1131}{1128}{1134} \Bs{trl}{206}{1131}{100}
\Lf{lR}{203}{221}{1128}{Eimeria\_acervulinaCDI78451}
\Lf{lR}{203}{230}{1134}{Toxoplasma\_gondii35.m00937}
\Tx{lr}{12}{340}{1083}{Dinozoa} \Tx{lr}{8.4}{337}{1093}{Apicomonadea} \Tx{lr}{10}{343}{1100}{Gregarinomorphea}
\Br{lr}{360}{1107}{1133} \Tx{lr}{10}{365}{1122}{Coccidiomorphea}
\Br{lr}{450}{1091}{1135} \Tx{lr}{14.4}{454}{1118}{Sporozoa}
\Br{lr}{522}{1076}{1135} \Tx{lr}{17.5}{528}{1106}{Myzozoa} \Tx{lr}{22.5}{605}{1104}{Alveolata ER derlin A}
\Nd{lR}{60}{85}{1214}{1187}{1242} \Bs{trl}{88}{1214}{7}
\Nd{lR}{85}{98}{1187}{1154}{1220} \Bs{trl}{101}{1187}{23}
\draw[lK] (98,-1154) -- (170,-1154); \draw[lK] (170,-1140) -- (170,-1168); \Bs{black}{173}{1155}{98} \Bg{135}{1143}{98}
\Lf{lK}{170}{278}{1140}{BodoSaltansCUI11064} \Tx{black}{15.6}{372}{1138}{Bodonida}
\Nd{lK}{170}{247}{1168}{1151}{1187} \Bs{black}{250}{1170}{99} \Bg{213}{1180}{99}
\Nd{lK}{247}{325}{1151}{1147}{1156} \Bs{black}{327}{1151}{100}
\Lf{lK}{325}{350}{1147}{Leishmania\_infantumXP\_001468294}
\Nd{lK}{325}{340}{1156}{1153}{1160} \Bs{black}{342}{1157}{72}
\Lf{lK}{340}{410}{1153}{Leptomonas\_seymouriKPI89512}
\Lf{lK}{340}{350}{1160}{Leptomonas\_pyrrhocorisXP\_015659591}
\Nd{lK}{247}{270}{1187}{1172}{1201} \Bs{black}{273}{1187}{58}
\Nd{lK}{270}{287}{1172}{1167}{1177} \Bs{black}{289}{1173}{68}
\Nd{lK}{287}{308}{1167}{1164}{1171} \Bs{black}{310}{1168}{76}
\Lf{lK}{308}{403}{1164}{Angomonas\_deaneiEPY41824}
\Lf{lK}{308}{370}{1171}{Strigomonas\_culicisEPY26729}
\Lf{lK}{287}{403}{1177}{Phytomonas\_sp.EM1\_CCW60854}
\Nd{lK}{270}{300}{1201}{1192}{1211} \Bs{black}{303}{1201}{81}
\Nd{lK}{300}{317}{1192}{1186}{1198} \Bs{black}{319}{1192}{59}
\Nd{lK}{317}{337}{1186}{1183}{1189} \Bs{black}{339}{1186}{86}
\Lf{lK}{337}{360}{1183}{Trypanosoma\_bruceiXP\_828399}
\Lf{lK}{337}{360}{1189}{Trypanosoma\_congolenseCCC94903}
\Nd{lK}{317}{323}{1198}{1196}{1201} \Bs{black}{325}{1199}{28}
\Lf{lK}{323}{366}{1196}{Trypanosoma\_grayiXP\_009310138}
\Lf{lK}{323}{369}{1201}{Trypanosoma\_vivax\_CCC52841}
\Nd{lK}{300}{337}{1211}{1208}{1214} \Bs{black}{339}{1211}{99}
\Lf{lK}{337}{366}{1208}{TrypanosomacruziEKG03326}
\Lf{lK}{337}{366}{1214}{Trypanosoma\_rangeliESL09587}
\Lf{lR}{98}{268}{1220}{Blastocystis\_sp.\_ATCC\_50177\_OAO17283}
\Tx{lr}{8.3}{423}{1220}{Bigyra Heterokonta non-gyrist ER derlin A}
\Br{black}{523}{1146}{1215} \Tx{black}{16.6}{528}{1178}{Trypanosomatida}
\Tx{black}{21}{720}{1156}{PROTOZOA derlin A}
\Br{black}{666}{1140}{1215} \Tx{black}{16.5}{672}{1178}{Kinetoplastea\ \ Euglenozoa\ \ Eozoa}
\Nd{lR}{85}{130}{1242}{1232}{1252} \Bs{trl}{133}{1242}{14}
\draw[lR] (130,-1232) -- (170,-1232); \draw[lB] (170,-1226) -- (170,-1232); \draw[lR] (170,-1232) -- (170,-1239); \Bs{trl}{173}{1232}{19}
\Lf{lB}{170}{498}{1226}{Trichomonas\_vaginalis\_G3\_XP\_001307094}
\Tx{lb}{12.8}{648}{1227}{Parabasalia Metamonada: Loukozoa ER derlin B PROTOZOA}
\Nd{lR}{170}{315}{1239}{1233}{1243} \Bs{trl}{318}{1244}{100}
\Lf{lR}{315}{318}{1233}{ParameciumTetraureliaDer1\_1}
\Nd{lR}{315}{347}{1243}{1239}{1245} \Bs{trl}{350}{1244}{88}
\Lf{lR}{347}{386}{1239}{Paramecium\_tetaurelia\_Der1\_3}
\Lf{lR}{347}{380}{1245}{ParameciumTetraurelia\_ADA31DC8\_Der1\_2}
\Lf{lR}{130}{215}{1252}{Tetrahymena\_thermophilaXP\_001er1\_1\_Der1\_1}
\Br{lr}{517}{1232}{1257} \Tx{lr}{15.8}{521}{1246}{Ciliophora Alveolata ER derlin A}
\Tx{lr}{15.7}{768}{1246}{CHROMISTA}
% scale bar
\draw[draw=gray,line width=1.5pt] (355,-1270) -- (480,-1270);
\node[inner sep=0pt,font=\fontsize{7}{7}\selectfont] at (418,-1279) {0.7};
\end{tikzpicture}
\end{document}
